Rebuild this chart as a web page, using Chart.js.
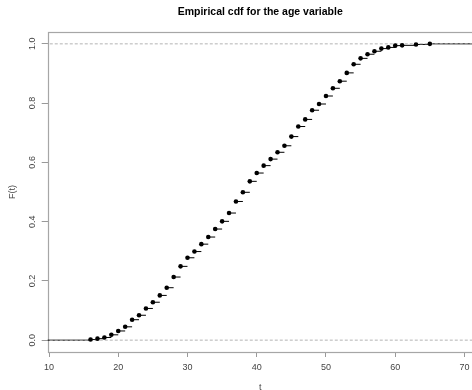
<!DOCTYPE html>
<html>
<head>
<meta charset="utf-8">
<script src="https://cdn.jsdelivr.net/npm/chart.js@4/dist/chart.umd.min.js"></script>
<style>
html,body{margin:0;padding:0;background:#fff;overflow:hidden;}
canvas{display:block;}
</style>
</head>
<body>
<canvas id="c" width="475" height="390"></canvas>
<script>
// Data: ages (knots) and empirical CDF values
const ages = [16,17,18,19,20,21,22,23,24,25,26,27,28,29,30,31,32,33,34,35,36,37,38,39,40,
              41,42,43,44,45,46,47,48,49,50,51,52,53,54,55,56,57,58,59,60,61,63,65];
const cdf  = [0.002,0.005,0.009,0.018,0.031,0.045,0.069,0.084,0.107,0.128,0.151,0.177,0.213,0.249,
              0.278,0.299,0.324,0.348,0.375,0.401,0.429,0.468,0.499,0.536,0.564,0.589,0.611,0.634,
              0.656,0.687,0.721,0.745,0.776,0.797,0.824,0.850,0.874,0.902,0.931,0.951,0.965,0.975,
              0.984,0.988,0.994,0.995,0.998,1.000];
const xTicks = [10,20,30,40,50,60,70];
const yTicks = [0,0.2,0.4,0.6,0.8,1.0];
const refLines = [0,1];

const X_MIN = 9.81, X_MAX = 71.19, Y_MIN = -0.04, Y_MAX = 1.04;
const FAR_L = 0, FAR_R = 80;

// step segments (horizontal only)
const stepData = [];
stepData.push({x: FAR_L, y: 0}, {x: ages[0], y: 0}, {x: ages[0], y: null});
for (let i = 0; i < ages.length; i++) {
  const xe = i < ages.length - 1 ? ages[i + 1] : FAR_R;
  stepData.push({x: ages[i], y: cdf[i]}, {x: xe, y: cdf[i]}, {x: xe, y: null});
}
const refData = [];
refLines.forEach(v => { refData.push({x: FAR_L, y: v}, {x: FAR_R, y: v}, {x: FAR_R, y: null}); });
const pointData = ages.map((a, i) => ({x: a, y: cdf[i]}));

const boxPlugin = {
  id: 'box',
  beforeDatasetsDraw(chart) {
    const {ctx, chartArea: a} = chart;
    ctx.save();
    ctx.strokeStyle = '#a6a6a6';
    ctx.lineWidth = 1.2;
    ctx.strokeRect(Math.round(a.left) + 0.5, Math.round(a.top) + 0.5,
                   Math.round(a.right - a.left), Math.round(a.bottom - a.top));
    ctx.restore();
  }
};

const tickFont = {family: '"Liberation Sans", Arial, sans-serif', size: 9};

new Chart(document.getElementById('c'), {
  type: 'scatter',
  data: {
    datasets: [
      {type: 'scatter', data: pointData, order: 0, pointRadius: 2.3, pointHoverRadius: 2.3,
       backgroundColor: '#000', borderColor: '#000', borderWidth: 0, showLine: false},
      {type: 'line', data: refData, order: 1, borderColor: '#b3b3b3', borderWidth: 1,
       borderDash: [3, 2], pointRadius: 0, spanGaps: false, fill: false, tension: 0},
      {type: 'line', data: stepData, order: 2, borderColor: '#000', borderWidth: 1,
       pointRadius: 0, spanGaps: false, fill: false, tension: 0}
    ]
  },
  options: {
    responsive: false,
    animation: false,
    events: [],
    layout: {padding: {left: 0, right: 0.7, top: 0, bottom: 0}},
    plugins: {
      legend: {display: false},
      tooltip: {enabled: false},
      title: {
        display: true,
        text: 'Empirical cdf for the age variable',
        fullSize: false,
        color: '#000',
        font: {family: '"Liberation Sans", Arial, sans-serif', size: 10.5, weight: 'bold', lineHeight: 1.2},
        padding: {top: 6, bottom: 13.4}
      }
    },
    scales: {
      x: {
        type: 'linear', min: X_MIN, max: X_MAX,
        afterBuildTicks: s => { s.ticks = xTicks.map(v => ({value: v})); },
        afterFit: s => { s.height = 38; },
        border: {display: false},
        grid: {display: true, drawOnChartArea: false, drawTicks: true, tickLength: 5, color: '#999', lineWidth: 1},
        ticks: {color: '#444', font: tickFont, padding: 5, maxRotation: 0, autoSkip: false,
                callback: v => String(v)},
        title: {display: true, text: 't', color: '#444', font: tickFont, padding: {top: 6, bottom: -2.5}}
      },
      y: {
        type: 'linear', min: Y_MIN, max: Y_MAX,
        afterBuildTicks: s => { s.ticks = yTicks.map(v => ({value: v})); },
        afterFit: s => { s.width = 47.7; },
        border: {display: false},
        grid: {display: true, drawOnChartArea: false, drawTicks: true, tickLength: 6, color: '#999', lineWidth: 1},
        ticks: {color: '#444', font: tickFont, padding: 3, minRotation: 90, maxRotation: 90,
                crossAlign: 'center', autoSkip: false, callback: v => v.toFixed(1)},
        title: {display: true, text: 'F(t)', color: '#444', font: tickFont, padding: {top: 7, bottom: 0}}
      }
    }
  },
  plugins: [boxPlugin]
});
</script>
</body>
</html>
